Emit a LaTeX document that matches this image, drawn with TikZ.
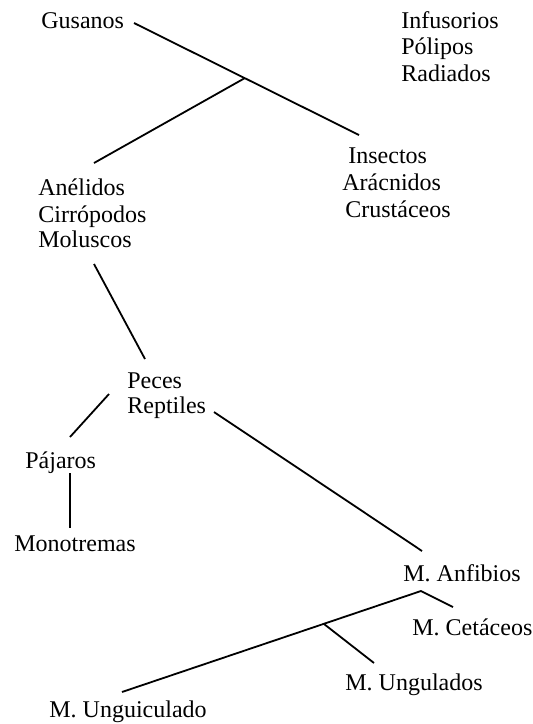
\documentclass[tikz,border=0pt]{standalone}
\usepackage{fontspec}
\setmainfont{Liberation Serif}
\begin{document}
\begin{tikzpicture}[x=0.5pt,y=-0.5pt,
        taxon/.style={anchor=base west,inner sep=0pt,font=\fontsize{12}{14}\selectfont},
        rama/.style={line width=0.9pt}]
    \useasboundingbox (0,0) rectangle (533,724);
    \node[taxon] (gus) at (41,28) {Gusanos};
    \node[taxon] (inf) at (401,28) {Infusorios};
    \node[taxon] (pol) at (401,54) {Pólipos};
    \node[taxon] (rad) at (401,81) {Radiados};
    \node[taxon] (ins) at (348,163) {Insectos};
    \node[taxon] (ara) at (342,190) {Arácnidos};
    \node[taxon] (cru) at (345,217) {Crustáceos};
    \node[taxon] (ane) at (38,195) {Anélidos};
    \node[taxon] (cir) at (38,222) {Cirrópodos};
    \node[taxon] (mol) at (38,247) {Moluscos};
    \node[taxon] (pec) at (127,388) {Peces};
    \node[taxon] (rep) at (127,413) {Reptiles};
    \node[taxon] (paj) at (25,468) {Pájaros};
    \node[taxon] (mon) at (14,551) {Monotremas};
    \node[taxon] (anf) at (403,581) {M. Anfibios};
    \node[taxon] (cet) at (412,635) {M. Cetáceos};
    \node[taxon] (ung) at (345,690) {M. Ungulados};
    \node[taxon] (ugc) at (49,717) {M. Unguiculado};

    \coordinate (gus-e) at (134,23);
    \coordinate (ins-n) at (359,135);
    \coordinate (nudo1) at (245,78);
    \coordinate (ane-n) at (94,163);
    \coordinate (mol-s) at (94,264);
    \coordinate (pec-n) at (145,359);
    \coordinate (pec-w) at (109,394);
    \coordinate (paj-n) at (70,437);
    \coordinate (paj-s) at (70,473);
    \coordinate (mon-n) at (70,528);
    \coordinate (rep-e) at (214,412);
    \coordinate (anf-n) at (422,551);
    \coordinate (nudo2) at (421,591);
    \coordinate (cet-n) at (453,607);
    \coordinate (ugc-n) at (122,692);
    \coordinate (nudo3) at (324,624);
    \coordinate (ung-n) at (374,663);

    \draw[rama] (gus-e) -- (ins-n);
    \draw[rama] (nudo1) -- (ane-n);
    \draw[rama] (mol-s) -- (pec-n);
    \draw[rama] (pec-w) -- (paj-n);
    \draw[rama] (paj-s) -- (mon-n);
    \draw[rama] (rep-e) -- (anf-n);
    \draw[rama] (cet-n) -- (nudo2) -- (ugc-n);
    \draw[rama] (nudo3) -- (ung-n);
\end{tikzpicture}
\end{document}
